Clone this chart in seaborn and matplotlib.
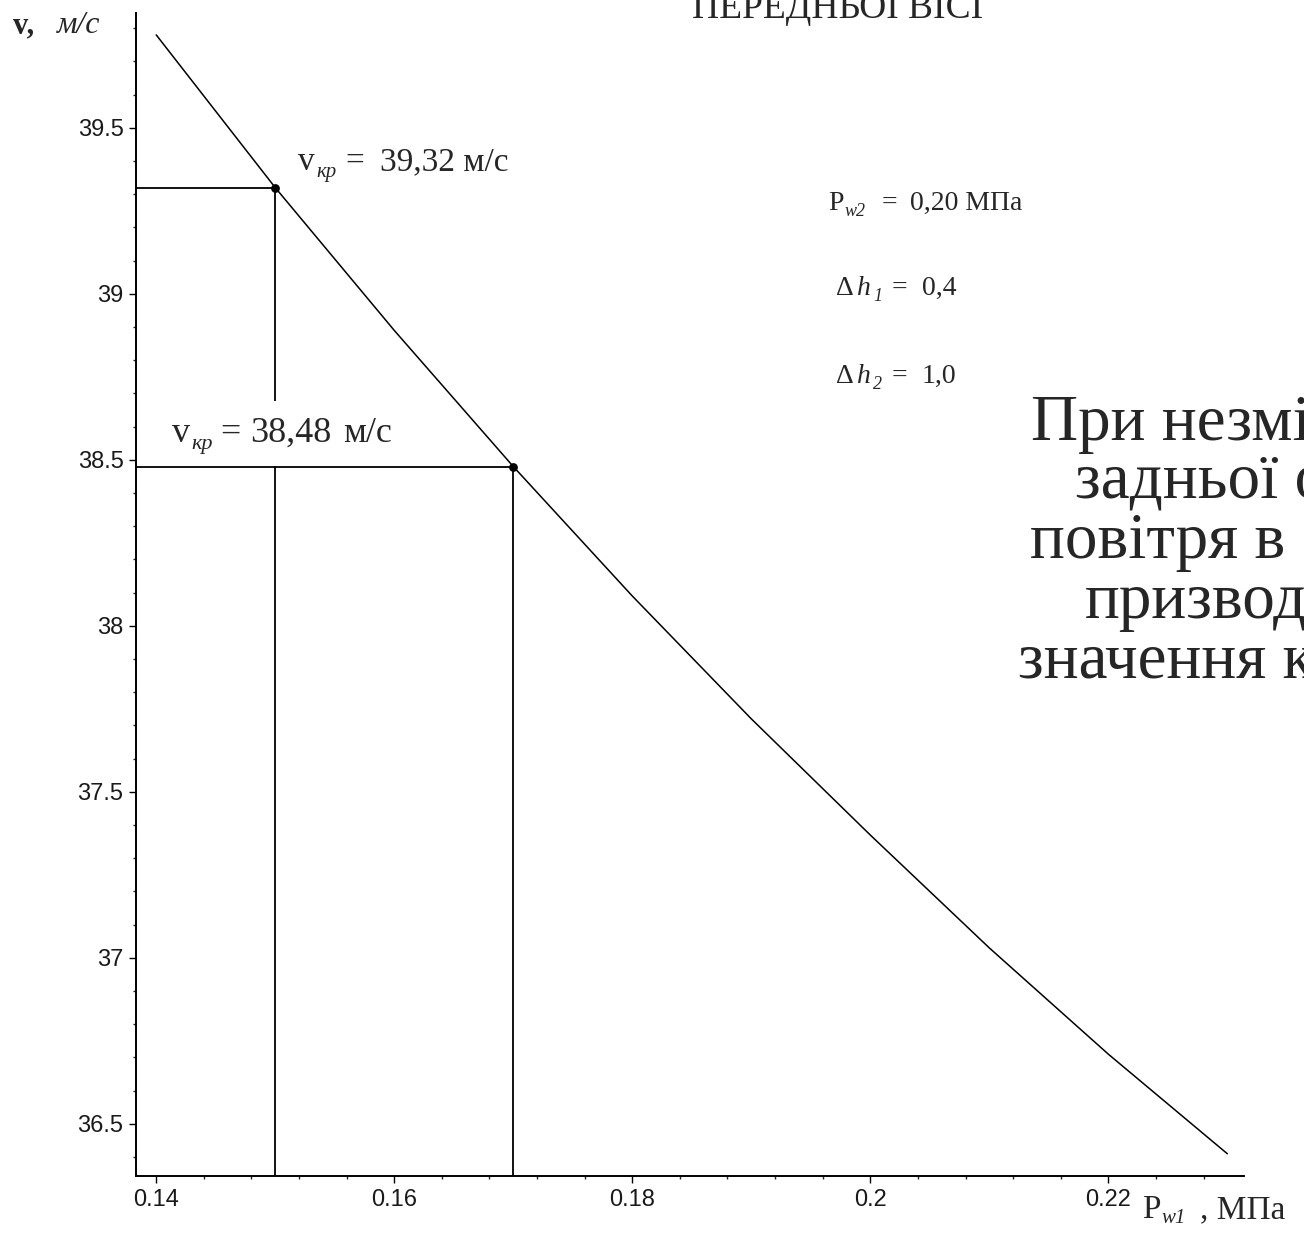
import numpy as np
import pandas as pd
import seaborn as sns
import matplotlib.pyplot as plt
from matplotlib.ticker import MultipleLocator, FuncFormatter
from matplotlib.transforms import IdentityTransform

# critical speed v vs front axle pressure P_w1
p_w1 = [0.14, 0.15, 0.16, 0.17, 0.18, 0.19, 0.20, 0.21, 0.22, 0.23]
v = [39.78, 39.32, 38.89, 38.48, 38.09, 37.72, 37.37, 37.03, 36.71, 36.41]

# marked critical points
p_kr = [0.15, 0.17]
v_kr = [39.32, 38.48]

sns.set_style("white")
plt.rcParams['font.family'] = ['Liberation Sans', 'DejaVu Sans']
SERIF = ['Liberation Serif', 'DejaVu Serif']

W, H = 1304, 1234
fig = plt.figure(figsize=(W / 100, H / 100), dpi=100)
ax = fig.add_axes([136 / W, 1 - 1176 / H, (1244 - 136) / W, (1176 - 13) / H])

df = pd.DataFrame({"p": p_w1, "v": v})
sns.lineplot(data=df, x="p", y="v", color="black", lw=1.1, ax=ax, zorder=3)

ax.set_xlim(0.1383, 0.2314)
ax.set_ylim(36.343, 39.846)
x0, y0 = ax.get_xlim()[0], ax.get_ylim()[0]

# guide lines to the marked points
ax.hlines(v_kr, xmin=x0, xmax=p_kr, color="black", lw=1.3, zorder=3)
ax.vlines(p_kr, ymin=y0, ymax=v_kr, color="black", lw=1.3, zorder=1)
ax.scatter(p_kr, v_kr, s=28, color="black", zorder=5)

for s in ["top", "right"]:
    ax.spines[s].set_visible(False)
for s in ["left", "bottom"]:
    ax.spines[s].set_linewidth(1.4)
    ax.spines[s].set_color("black")

ax.xaxis.set_major_locator(MultipleLocator(0.02))
ax.xaxis.set_minor_locator(MultipleLocator(0.004))
ax.yaxis.set_major_locator(MultipleLocator(0.5))
ax.yaxis.set_minor_locator(MultipleLocator(0.1))
fmt = FuncFormatter(lambda val, pos: "%g" % round(val, 4))
ax.xaxis.set_major_formatter(fmt)
ax.yaxis.set_major_formatter(fmt)
ax.tick_params(which="major", direction="out", length=5, width=1.0,
               labelsize=17, colors="black", labelcolor="#1a1a1a", pad=4)
ax.tick_params(which="minor", direction="out", length=2.2, width=1.0)
ax.tick_params(axis="x", which="both", bottom=True)
ax.tick_params(axis="y", which="both", left=True)
ax.set_xlabel("")
ax.set_ylabel("")


def put(x, y, s, size, style="normal", weight="normal", **kw):
    # x, y in image pixels, y counted from the top
    return ax.text(x, H - y, s, transform=IdentityTransform(), fontsize=size,
                   family=SERIF, style=style, weight=weight,
                   ha="left", va="baseline", clip_on=False, **kw)


# axis labels
put(13, 33, "v,", 22, weight="bold")
put(57, 33, "м/с", 23, style="italic")
put(1142, 1218, "P", 24)
put(1161, 1223, "w1", 15, style="italic")
put(1200, 1218, ", МПа", 24)

# v_kr = 39,32
put(298, 170, "v", 24)
put(316, 177, "кр", 15, style="italic")
put(345, 170, "=", 24)
put(380, 170, "39,32 м/с", 24)

# v_kr = 38,48 (white box hides the guide line behind it)
box = dict(facecolor="white", edgecolor="none", boxstyle="square,pad=0.45")
put(172, 442, "v", 26)
put(191, 449, "кр", 16, style="italic")
put(220, 442, "=", 26)
put(250, 442, "38,48", 26, bbox=box, zorder=2)
put(343, 442, "м/с", 26)

# parameters
put(828, 210, "P", 20)
put(845, 216, "w2", 13, style="italic")
put(882, 210, "=", 20)
put(910, 210, "0,20 МПа", 20)
for yb, sub, val in [(295, "1", "0,4"), (383, "2", "1,0")]:
    put(836, yb, "Δ", 20)
    put(857, yb, "h", 20, style="italic")
    put(873, yb + 6, sub, 13, style="italic")
    put(892, yb, "=", 20)
    put(922, yb, val, 20)

# slide text around the plot (cut by the picture edges)
fig.text(838 / W, 1 - 18 / H, "ПЕРЕДНЬОЇ ВІСІ", fontsize=27, family=SERIF,
         ha="center", va="baseline")
lines = ["При незмі", "задньої о", "повітря в", "призвод", "значення к"]
starts = [1031, 1075, 1030, 1085, 1018]
bases = [440, 498, 558, 618, 678]
for s, xs, yb in zip(lines, starts, bases):
    fig.text(xs / W, 1 - yb / H, s, fontsize=47, family=SERIF,
             ha="left", va="baseline")

fig.savefig("out.png", dpi=100)
